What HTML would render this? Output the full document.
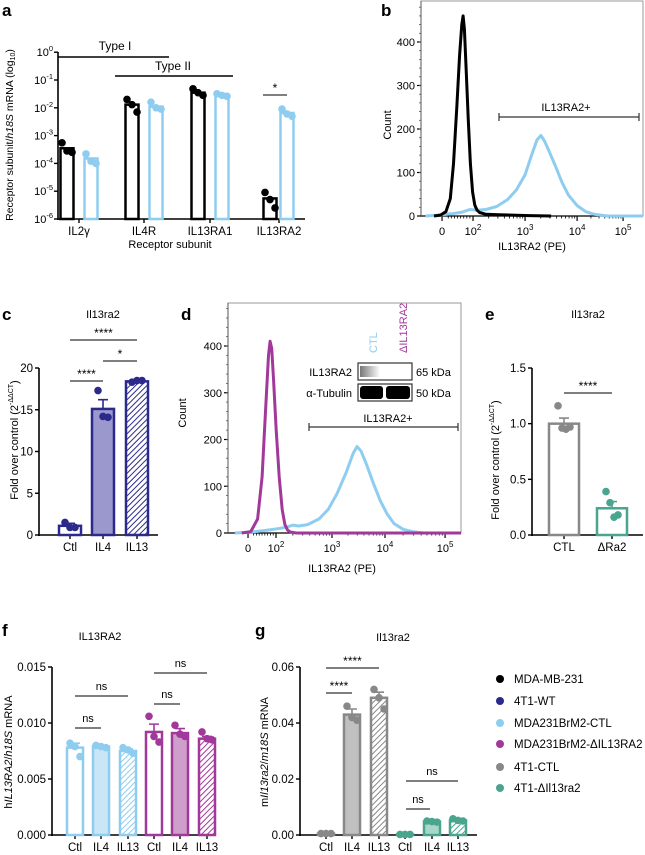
<!DOCTYPE html>
<html><head><meta charset="utf-8"><style>
html,body{margin:0;padding:0;background:#fff}
svg{display:block;font-family:"Liberation Sans",Arial,sans-serif}
</style></head><body>
<svg id="fig" width="645" height="855" viewBox="0 0 645 855" xmlns="http://www.w3.org/2000/svg">
<defs>
<pattern id="hatch-navy" patternUnits="userSpaceOnUse" width="4" height="4" patternTransform="rotate(45)"><rect width="4" height="4" fill="#fff"/><line x1="0" y1="0" x2="0" y2="4" stroke="#2b2a8c" stroke-width="2"/></pattern>
<pattern id="hatch-blue" patternUnits="userSpaceOnUse" width="4" height="4" patternTransform="rotate(45)"><rect width="4" height="4" fill="#fff"/><line x1="0" y1="0" x2="0" y2="4" stroke="#8ecdf0" stroke-width="2"/></pattern>
<pattern id="hatch-mag" patternUnits="userSpaceOnUse" width="4" height="4" patternTransform="rotate(45)"><rect width="4" height="4" fill="#fff"/><line x1="0" y1="0" x2="0" y2="4" stroke="#a2399a" stroke-width="2"/></pattern>
<pattern id="hatch-gray" patternUnits="userSpaceOnUse" width="4" height="4" patternTransform="rotate(45)"><rect width="4" height="4" fill="#fff"/><line x1="0" y1="0" x2="0" y2="4" stroke="#888" stroke-width="2"/></pattern>
<pattern id="hatch-teal" patternUnits="userSpaceOnUse" width="4" height="4" patternTransform="rotate(45)"><rect width="4" height="4" fill="#fff"/><line x1="0" y1="0" x2="0" y2="4" stroke="#4aa58f" stroke-width="2"/></pattern>
<linearGradient id="blotfade" x1="0" x2="1"><stop offset="0" stop-color="#777"/><stop offset="0.5" stop-color="#bbb"/><stop offset="1" stop-color="#fff"/></linearGradient>
</defs>

<text x="2" y="16" font-size="17" font-weight="bold">a</text>
<text x="381" y="16" font-size="17" font-weight="bold">b</text>
<text x="2" y="320" font-size="17" font-weight="bold">c</text>
<text x="181" y="320" font-size="17" font-weight="bold">d</text>
<text x="485" y="320" font-size="17" font-weight="bold">e</text>
<text x="2" y="636" font-size="17" font-weight="bold">f</text>
<text x="255" y="636" font-size="17" font-weight="bold">g</text>

<text x="103" y="318" font-size="11" text-anchor="middle">Il13ra2</text>
<text x="588" y="318" font-size="11" text-anchor="middle">Il13ra2</text>
<text x="100" y="640" font-size="11" text-anchor="middle">IL13RA2</text>
<text x="393" y="641" font-size="11" text-anchor="middle">Il13ra2</text>

<text transform="translate(13,135) rotate(-90)" font-size="10.5" text-anchor="middle">Receptor subunit/<tspan font-style="italic">h18S</tspan> mRNA (log<tspan font-size="7" dy="2">10</tspan><tspan dy="-2">)</tspan></text>
<text x="170" y="248" font-size="11" text-anchor="middle">Receptor subunit</text>
<text transform="translate(18,440) rotate(-90)" font-size="11" text-anchor="middle">Fold over control  (2<tspan font-size="7" dy="-5">-ΔΔCT</tspan><tspan dy="5">)</tspan></text>
<text transform="translate(499,460) rotate(-90)" font-size="11" text-anchor="middle">Fold over control  (2<tspan font-size="7" dy="-5">-ΔΔCT</tspan><tspan dy="5">)</tspan></text>
<text transform="translate(12,752) rotate(-90)" font-size="11" text-anchor="middle">h<tspan font-style="italic">IL13RA2</tspan>/<tspan font-style="italic">h18S</tspan> mRNA</text>
<text transform="translate(268,752) rotate(-90)" font-size="11" text-anchor="middle">m<tspan font-style="italic">Il13ra2</tspan>/<tspan font-style="italic">m18S</tspan> mRNA</text>
<text transform="translate(391,125) rotate(-90)" font-size="11" text-anchor="middle">Count</text>
<text x="532" y="250" font-size="11" text-anchor="middle">IL13RA2 (PE)</text>
<text transform="translate(186,413) rotate(-90)" font-size="11" text-anchor="middle">Count</text>
<text x="342" y="572" font-size="11" text-anchor="middle">IL13RA2 (PE)</text>

<g>
<text transform="translate(377,353) rotate(-90)" font-size="11" fill="#8ecdf0">CTL</text>
<text transform="translate(407,353) rotate(-90)" font-size="11" fill="#a2399a">ΔIL13RA2</text>
<rect x="358" y="363" width="54" height="17" fill="#fff" stroke="#333" stroke-width="1.2"/>
<rect x="360" y="366" width="20" height="11" fill="url(#blotfade)"/>
<rect x="358" y="384" width="54" height="17" fill="#fff" stroke="#333" stroke-width="1.2"/>
<rect x="360" y="386" width="23" height="13" rx="3" fill="#000"/>
<rect x="386" y="386" width="24" height="13" rx="3" fill="#000"/>
<text x="352" y="376" font-size="11" text-anchor="end">IL13RA2</text>
<text x="352" y="397" font-size="11" text-anchor="end">α-Tubulin</text>
<text x="416" y="376" font-size="11">65 kDa</text>
<text x="416" y="397" font-size="11">50 kDa</text>
</g>

<g id="legend"></g>
</svg>

<script>
// Panel a
const aCategories = ["IL2γ", "IL4R", "IL13RA1", "IL13RA2"];
const aBlackMeans = [3.5e-4, 1.3e-2, 3.5e-2, 5.5e-6];
const aBlueMeans = [1.5e-4, 1.1e-2, 2.8e-2, 6.5e-3];
const aBlackPoints = [[5.5e-4, 2.8e-4, 2.5e-4], [2.0e-2, 1.3e-2, 7e-3], [4.8e-2, 3.5e-2, 2.8e-2], [9e-6, 5e-6, 2.5e-6]];
const aBluePoints = [[2.2e-4, 1.2e-4, 1.0e-4], [1.6e-2, 1.0e-2, 9e-3], [3.2e-2, 2.8e-2, 2.6e-2], [9e-3, 6e-3, 5e-3]];
const aTickExps = [0, -1, -2, -3, -4, -5, -6];

// Panel b histograms (channel 0-1024, count)
const bBlackCh = [60, 90, 115, 135, 150, 165, 178, 188, 194, 200, 208, 218, 228, 238, 248, 258, 270, 300, 360, 420, 500, 600];
const bBlackCt = [0, 2, 10, 40, 120, 250, 370, 440, 460, 430, 340, 220, 120, 55, 25, 14, 8, 4, 3, 2, 1, 0];
const bBlueCh = [20, 80, 140, 190, 226, 260, 300, 350, 400, 440, 480, 510, 535, 553, 570, 590, 620, 650, 680, 720, 760, 800, 860, 1024];
const bBlueCt = [0, 2, 5, 9, 15, 13, 15, 22, 38, 60, 95, 140, 175, 185, 172, 150, 115, 78, 48, 24, 10, 4, 0, 0];
const bTickLabels = ["0", "2", "3", "4", "5"];
const bTickCh = [97, 240, 480, 720, 932];
const bYTicks = [0, 100, 200, 300, 400];

// Panel c
const cCategories = ["Ctl", "IL4", "IL13"];
const cMeans = [1.1, 15.1, 18.4];
const cErr = [0.3, 1.1, 0.1];
const cPoints = [[1.5, 0.9, 0.9], [17.3, 14.2, 14.1], [18.3, 18.5, 18.5]];
const cYTicks = [0, 5, 10, 15, 20];

// Panel d histograms
const dMagCh = [60, 100, 130, 150, 165, 178, 185, 192, 200, 212, 225, 238, 250, 262, 275, 300, 400, 1024];
const dMagCt = [0, 3, 30, 120, 260, 380, 410, 395, 330, 220, 120, 50, 18, 6, 2, 0, 0, 0];
const dBlueCh = [30, 100, 170, 230, 260, 286, 310, 350, 400, 440, 480, 520, 550, 567, 585, 610, 640, 670, 700, 730, 770, 810, 860, 1024];
const dBlueCt = [0, 2, 6, 10, 13, 17, 15, 18, 30, 50, 85, 130, 170, 185, 175, 145, 105, 68, 40, 20, 8, 3, 0, 0];
const dTickLabels = ["0", "2", "3", "4", "5"];
const dTickCh = [88, 211, 457, 690, 954];
const dYTicks = [0, 100, 200, 300, 400];

// Panel e
const eCategories = ["CTL", "ΔRa2"];
const eMeans = [1.0, 0.24];
const eErr = [0.05, 0.06];
const ePoints = [[1.16, 0.96, 0.95, 0.97], [0.39, 0.29, 0.16, 0.18]];
const eYTicks = [0, 0.5, 1.0, 1.5];

// Panel f
const fCategories = ["Ctl", "IL4", "IL13", "Ctl", "IL4", "IL13"];
const fMeans = [0.0078, 0.0079, 0.0075, 0.0092, 0.0091, 0.0086];
const fErr = [0.0004, 0.0001, 0.0002, 0.0007, 0.0004, 0.0002];
const fPoints = [[0.0082, 0.0079, 0.0070], [0.0080, 0.0079, 0.0078], [0.0078, 0.0076, 0.0073], [0.0106, 0.0088, 0.0083], [0.0098, 0.0090, 0.0088], [0.0092, 0.0086, 0.0085]];
const fYTicks = [0, 0.005, 0.010, 0.015];

// Panel g
const gCategories = ["Ctl", "IL4", "IL13", "Ctl", "IL4", "IL13"];
const gMeans = [0.0005, 0.043, 0.049, 0.0002, 0.0048, 0.0052];
const gErr = [0.0001, 0.002, 0.002, 0.0001, 0.0002, 0.0003];
const gPoints = [[0.0005, 0.0005, 0.0005], [0.046, 0.042, 0.041], [0.052, 0.049, 0.045], [0.0002, 0.0002, 0.0002], [0.0050, 0.0048, 0.0046], [0.0058, 0.0052, 0.0050]];
const gYTicks = [0, 0.02, 0.04, 0.06];

// Legend
const legendLabels = ["MDA-MB-231", "4T1-WT", "MDA231BrM2-CTL", "MDA231BrM2-ΔIL13RA2", "4T1-CTL", "4T1-ΔIl13ra2"];
const legendColors = ["#000000", "#2b2a8c", "#8ecdf0", "#a2399a", "#888888", "#4aa58f"];

const NS = "http://www.w3.org/2000/svg";
const svg = document.getElementById("fig");
function mk(tag, attrs, parent) {
  const e = document.createElementNS(NS, tag);
  for (const k in attrs) e.setAttribute(k, attrs[k]);
  (parent || svg).appendChild(e);
  return e;
}
function txt(x, y, s, size, anchor, parent) {
  const t = mk("text", {x: x, y: y, "font-size": size, "text-anchor": anchor || "middle"}, parent);
  t.textContent = s;
  return t;
}
function linScale(d0, d1, r0, r1) { return v => r0 + (v - d0) / (d1 - d0) * (r1 - r0); }

function drawBars(g, xs, y, means, errs, points, strokes, fills, w, dotColor) {
  for (let i = 0; i < means.length; i++) {
    const x = xs[i], top = y(means[i]), base = y.base;
    const b = mk("rect", {x: x - w / 2, y: top, width: w, height: Math.max(0, base - top), fill: fills[i], stroke: strokes[i], "stroke-width": 2.5}, g);
    
    
    if (errs) {
      const eb = mk("path", {d: `M${x} ${top} V${y(means[i] + errs[i])} M${x - 5} ${y(means[i] + errs[i])} H${x + 5}`, stroke: strokes[i], "stroke-width": 1.6, fill: "none"}, g);
      
      
    }
    const pts = points[i];
    for (let j = 0; j < pts.length; j++) {
      const off = pts.length === 3 ? [-5, 0, 5][j] : [-6, -2, 2, 6][j];
      const c = mk("circle", {cx: x + off, cy: y(pts[j]), r: 3.8, fill: dotColor[i]}, g);
      
      
    }
  }
}
function sigLine(x1, x2, y, label, parent) {
  const l = mk("line", {x1: x1, x2: x2, y1: y, y2: y, stroke: "#333", "stroke-width": 1.2}, parent);
  
  
  const t = txt((x1 + x2) / 2, label === "ns" ? y - 6 : y - 3, label, label === "ns" ? 11 : 12, "middle", parent);
  
  
}
function linearAxes(g, x0, x1, y, ticks, fmt, xs, cats) {
  mk("line", {x1: x0, x2: x0, y1: y(ticks[ticks.length - 1]), y2: y.base + 1, stroke: "#000", "stroke-width": 1.6}, g);
  mk("line", {x1: x0 - 1, x2: x1, y1: y.base, y2: y.base, stroke: "#000", "stroke-width": 1.6}, g);
  ticks.forEach(t => {
    mk("line", {x1: x0 - 4, x2: x0, y1: y(t), y2: y(t), stroke: "#000", "stroke-width": 1.4}, g);
    const lt = txt(x0 - 6, y(t) + 4, fmt(t), 11.5, "end", g);
    
    
  });
  xs.forEach((x, i) => {
    mk("line", {x1: x, x2: x, y1: y.base, y2: y.base + 4, stroke: "#000", "stroke-width": 1.4}, g);
    const lt = txt(x, y.base + 16, cats[i], 11.5, "middle", g);
    
    
  });
}

// PANEL A
(function () {
  const g = mk("g", {});
  
  
  const y = v => 219 - (Math.log10(v) + 6) * 27.8;
  y.base = 219;
  const centers = [79, 144, 210, 279];
  mk("line", {x1: 58, x2: 58, y1: 52, y2: 220, stroke: "#000", "stroke-width": 1.6}, g);
  mk("line", {x1: 57, x2: 305, y1: 219, y2: 219, stroke: "#000", "stroke-width": 1.6}, g);
  aTickExps.forEach(e => {
    const yy = 219 - (e + 6) * 27.8;
    mk("line", {x1: 54, x2: 58, y1: yy, y2: yy, stroke: "#000", "stroke-width": 1.4}, g);
    const t = mk("text", {x: 53, y: yy + 4, "font-size": 11, "text-anchor": "end"}, g);
    
    
    t.innerHTML = '10<tspan font-size="7.5" dy="-5">' + e + '</tspan>';
  });
  centers.forEach((c, i) => {
    mk("line", {x1: c, x2: c, y1: 219, y2: 223, stroke: "#000", "stroke-width": 1.4}, g);
    const t = txt(c, 235, aCategories[i], 11.5, "middle", g);
    
    
  });
  const xsB = centers.map(c => c - 12), xsL = centers.map(c => c + 12);
  xsL[3] = centers[3] + 8; xsB[3] = centers[3] - 9;
  drawBars(g, xsB, y, aBlackMeans, null, aBlackPoints, aBlackMeans.map(() => "#000"), aBlackMeans.map(() => "#fff"), 13, aBlackMeans.map(() => "#000"));
  drawBars(g, xsL, y, aBlueMeans, null, aBluePoints, aBlueMeans.map(() => "#8ecdf0"), aBlueMeans.map(() => "#fff"), 13, aBlueMeans.map(() => "#8ecdf0"));
  mk("line", {x1: 58, x2: 169, y1: 57, y2: 57, stroke: "#000", "stroke-width": 1.4}, g);
  txt(115, 50, "Type I", 12, "middle", g);
  mk("line", {x1: 115, x2: 233, y1: 76, y2: 76, stroke: "#000", "stroke-width": 1.4}, g);
  txt(173, 70, "Type II", 12, "middle", g);
  sigLine(263, 287, 95, "*", g);
})();

function histPanel(name, L, R, T, B, y0px, pxPer100, tickCh, tickLabels, yTicks, series) {
  const g = mk("g", {});
  
  
  const x = ch => L + ch / 1024 * (R - L);
  const y = c => y0px - c / 100 * pxPer100;
  mk("rect", {x: L, y: T, width: R - L, height: B - T, fill: "none", stroke: "#999", "stroke-width": 1}, g);
  mk("line", {x1: L, x2: R, y1: B, y2: B, stroke: "#000", "stroke-width": 1.2}, g);
  mk("line", {x1: L, x2: L, y1: T, y2: B, stroke: "#555", "stroke-width": 1}, g);
  yTicks.forEach(t => {
    mk("line", {x1: L - 4, x2: L, y1: y(t), y2: y(t), stroke: "#000", "stroke-width": 1.2}, g);
    const lt = txt(L - 6, y(t) + 4, String(t), 11, "end", g);
    
    
  });
  for (let v = 20; v < 500; v += 20) { if (y(v) > T) mk("line", {x1: L - 2, x2: L, y1: y(v), y2: y(v), stroke: "#555", "stroke-width": 0.8}, g); }
  tickCh.forEach((c, i) => {
    mk("line", {x1: x(c), x2: x(c), y1: B, y2: B + 5, stroke: "#000", "stroke-width": 1.2}, g);
    if (i > 0) {
      for (let k = 2; k <= 9; k++) {
        const prev = tickCh[i - 1];
        const cc = i === 1 ? prev + (c - prev) * (k / 10) : prev + (c - prev) * Math.log10(k);
        mk("line", {x1: x(cc), x2: x(cc), y1: B, y2: B + 2.5, stroke: "#000", "stroke-width": 0.8}, g);
      }
    }
    const t = mk("text", {x: x(c), y: B + 19, "font-size": 11, "text-anchor": "middle"}, g);
    
    
    t.innerHTML = i === 0 ? '0' : '10<tspan font-size="8" dy="-5">' + tickLabels[i] + '</tspan>';
  });
  series.forEach(s => {
    const d = s.ch.map((c, i) => (i ? "L" : "M") + x(c).toFixed(1) + " " + y(s.ct[i]).toFixed(1)).join(" ");
    const p = mk("path", {d: d, fill: "none", stroke: s.color, "stroke-width": 3, "stroke-linejoin": "round"}, g);
    
    
  });
  return {g: g, x: x, y: y};
}
const pb = histPanel("panel-b-flow-histogram", 421, 643, 1, 216, 216, 43.5, bTickCh, bTickLabels, bYTicks,
  [{ch: bBlueCh, ct: bBlueCt, color: "#8ecdf0", name: "histogram-mda231brm2-ctl"},
   {ch: bBlackCh, ct: bBlackCt, color: "#000", name: "histogram-mda-mb-231"}]);
mk("path", {d: "M499 113 V121 M499 117 H639 M639 113 V121", stroke: "#333", "stroke-width": 1.2, fill: "none"}, pb.g);
txt(566, 111, "IL13RA2+", 11, "middle", pb.g);

const pd = histPanel("panel-d-flow-histogram", 228, 461, 303, 533, 533, 46.75, dTickCh, dTickLabels, dYTicks,
  [{ch: dBlueCh, ct: dBlueCt, color: "#8ecdf0", name: "histogram-brm2-ctl"},
   {ch: dMagCh, ct: dMagCt, color: "#a2399a", name: "histogram-brm2-delta-il13ra2"}]);
mk("path", {d: "M309 423 V431 M309 427 H458 M458 423 V431", stroke: "#333", "stroke-width": 1.2, fill: "none"}, pd.g);
txt(388, 422, "IL13RA2+", 11, "middle", pd.g);

// PANEL C
(function () {
  const g = mk("g", {});
  
  
  const y = linScale(0, 20, 535, 368); y.base = 535;
  const xs = [70, 103, 137];
  linearAxes(g, 39, 158, y, cYTicks, v => String(v), xs, cCategories);
  drawBars(g, xs, y, cMeans, cErr, cPoints, ["#2b2a8c", "#2b2a8c", "#2b2a8c"], ["#fff", "#9a98cc", "url(#hatch-navy)"], 22, ["#2b2a8c", "#2b2a8c", "#2b2a8c"]);
  sigLine(70, 137, 340, "****", g);
  sigLine(103, 137, 361, "*", g);
  sigLine(70, 103, 381, "****", g);
})();

// PANEL E
(function () {
  const g = mk("g", {});
  
  
  const y = linScale(0, 1.5, 535, 368); y.base = 535;
  const xs = [564, 612];
  linearAxes(g, 532, 643, y, eYTicks, v => v.toFixed(1), xs, eCategories);
  drawBars(g, xs, y, eMeans, eErr, ePoints, ["#888", "#4aa58f"], ["#fff", "#fff"], 30, ["#888", "#4aa58f"]);
  sigLine(564, 612, 393, "****", g);
})();

// PANEL F
(function () {
  const g = mk("g", {});
  
  
  const y = linScale(0, 0.015, 835, 667); y.base = 835;
  const xs = [75, 101, 128, 154, 180, 207];
  linearAxes(g, 52, 214, y, fYTicks, v => v.toFixed(3), xs, fCategories);
  drawBars(g, xs, y, fMeans, fErr, fPoints,
    ["#8ecdf0", "#8ecdf0", "#8ecdf0", "#a2399a", "#a2399a", "#a2399a"],
    ["#fff", "#c9e6f7", "url(#hatch-blue)", "#fff", "#cf9fcb", "url(#hatch-mag)"], 16,
    ["#8ecdf0", "#8ecdf0", "#8ecdf0", "#a2399a", "#a2399a", "#a2399a"]);
  sigLine(75, 101, 728, "ns", g);
  sigLine(75, 128, 696, "ns", g);
  sigLine(154, 180, 704, "ns", g);
  sigLine(154, 207, 673, "ns", g);
})();

// PANEL G
(function () {
  const g = mk("g", {});
  
  
  const y = linScale(0, 0.06, 835, 667); y.base = 835;
  const xs = [326, 352, 379, 405, 432, 458];
  linearAxes(g, 300, 477, y, gYTicks, v => v.toFixed(2), xs, gCategories);
  drawBars(g, xs, y, gMeans, gErr, gPoints,
    ["#888", "#888", "#888", "#4aa58f", "#4aa58f", "#4aa58f"],
    ["#fff", "#c0c0c0", "url(#hatch-gray)", "#fff", "#a9d6ca", "url(#hatch-teal)"], 16,
    ["#888", "#888", "#888", "#4aa58f", "#4aa58f", "#4aa58f"]);
  sigLine(326, 379, 668, "****", g);
  sigLine(326, 352, 693, "****", g);
  sigLine(406, 458, 781, "ns", g);
  sigLine(406, 430, 809, "ns", g);
})();

// LEGEND
(function () {
  const lg = document.getElementById("legend");
  const rows = [683, 705, 727, 748, 771, 792];
  legendLabels.forEach((lab, i) => {
    const c = mk("circle", {cx: 500, cy: rows[i] - 4, r: 4, fill: legendColors[i]}, lg);
    
    
    const t = txt(514, rows[i], lab, 11.5, "start", lg);
    
    
  });
})();
</script>
</body></html>
